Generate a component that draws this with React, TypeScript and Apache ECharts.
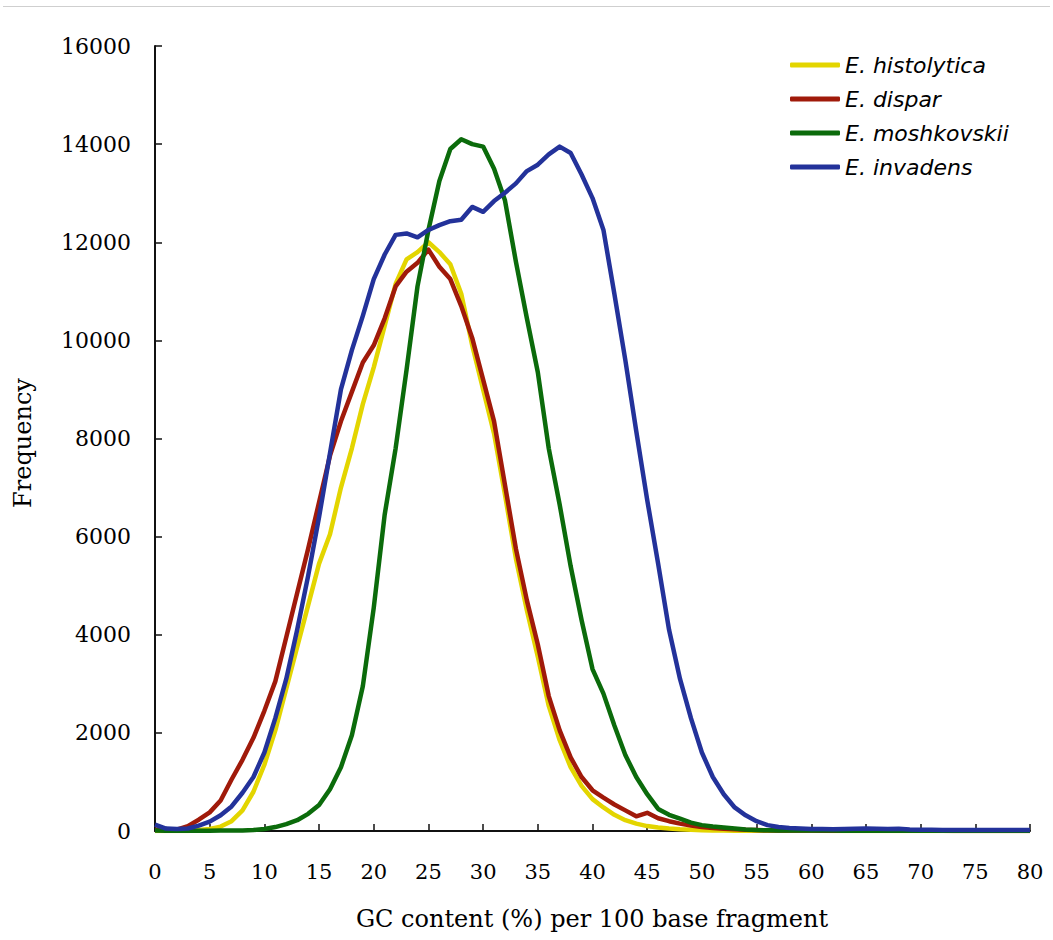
import React, { useEffect, useRef } from "react";
import * as echarts from "echarts";

const GC = [
  0, 1, 2, 3, 4, 5, 6, 7, 8, 9, 10, 11, 12, 13, 14, 15, 16, 17, 18, 19, 20,
  21, 22, 23, 24, 25, 26, 27, 28, 29, 30, 31, 32, 33, 34, 35, 36, 37, 38, 39, 40,
  41, 42, 43, 44, 45, 46, 47, 48, 49, 50, 51, 52, 53, 54, 55, 56, 57, 58, 59, 60,
  61, 62, 63, 64, 65, 66, 67, 68, 69, 70, 71, 72, 73, 74, 75, 76, 77, 78, 79, 80,
];

const X_TICKS = [0, 5, 10, 15, 20, 25, 30, 35, 40, 45, 50, 55, 60, 65, 70, 75, 80];
const Y_TICKS = [0, 2000, 4000, 6000, 8000, 10000, 12000, 14000, 16000];

const histolytica = [
  0, 0, 0, 0, 20, 40, 90, 200, 420, 800, 1350, 2050, 2900, 3750, 4600, 5450, 6050, 7000, 7800, 8700, 9450,
  10300, 11150, 11650, 11800, 12000, 11800, 11550, 10950, 9900, 9000, 8100, 6850, 5550, 4500, 3550, 2550, 1850, 1300, 920, 650,
  480, 330, 220, 150, 100, 70, 50, 35, 25, 15, 10, 8, 6, 5, 5, 4, 4, 3, 3, 3,
  3, 2, 2, 2, 2, 2, 2, 2, 2, 2, 2, 1, 1, 1, 1, 1, 1, 1, 1, 1,
];

const dispar = [
  30, 20, 30, 100, 230, 380, 620, 1050, 1450, 1900, 2450, 3050, 3950, 4850, 5750, 6700, 7650, 8350, 8950, 9550, 9900,
  10450, 11100, 11400, 11580, 11850, 11500, 11250, 10700, 10050, 9200, 8350, 7050, 5750, 4700, 3800, 2750, 2050, 1500, 1100, 830,
  680, 540, 420, 300, 370, 260, 200, 150, 110, 80, 60, 45, 35, 25, 20, 15, 12, 10, 8, 8,
  6, 6, 5, 5, 5, 4, 4, 4, 3, 3, 3, 3, 2, 2, 2, 2, 2, 2, 2, 2,
];

const moshkovskii = [
  10, 5, 5, 5, 5, 5, 8, 10, 12, 20, 40, 80, 140, 220, 350, 530, 850, 1300, 1950, 2950, 4550,
  6450, 7800, 9400, 11100, 12250, 13250, 13900, 14100, 14000, 13950, 13500, 12850, 11600, 10450, 9350, 7800, 6650, 5400, 4300, 3300,
  2800, 2150, 1550, 1100, 750, 450, 330, 250, 170, 120, 90, 70, 50, 30, 20, 15, 12, 10, 10, 8,
  8, 8, 6, 6, 6, 5, 5, 5, 5, 4, 4, 4, 4, 3, 3, 3, 3, 3, 3, 3,
];

const invadens = [
  130, 50, 40, 50, 110, 190, 320, 500, 780, 1100, 1600, 2300, 3100, 4100, 5200, 6400, 7700, 9000, 9800, 10500, 11250,
  11750, 12150, 12180, 12100, 12250, 12350, 12430, 12460, 12720, 12620, 12840, 13010, 13200, 13450, 13580, 13790, 13950, 13820, 13380, 12900,
  12250, 10950, 9600, 8150, 6750, 5450, 4100, 3100, 2300, 1600, 1100, 750, 480, 320, 200, 120, 80, 60, 50, 40,
  40, 35, 40, 45, 50, 45, 40, 45, 30, 25, 25, 22, 22, 20, 20, 20, 20, 20, 20, 20,
];

const NAMES = ["E. histolytica", "E. dispar", "E. moshkovskii", "E. invadens"];
const COLORS = ["#E3D500", "#A01A0A", "#0B6B0B", "#23329A"];

export default function App() {
  const ref = useRef<HTMLDivElement>(null);
  useEffect(() => {
    if (!ref.current) return;
    const chart = echarts.init(ref.current, undefined, { renderer: "svg" });
    const all = [histolytica, dispar, moshkovskii, invadens];
    const axisColor = "#111";
    chart.setOption({
      animation: false,
      backgroundColor: "#ffffff",
      grid: { left: 155, right: 23, top: 46, bottom: 109, containLabel: false },
      legend: {
        orient: "vertical",
        left: 785,
        top: 47,
        itemWidth: 50,
        itemHeight: 5,
        itemGap: 8,
        icon: "roundRect",
        data: NAMES,
        textStyle: {
          fontFamily: "DejaVu Sans",
          fontStyle: "italic",
          fontSize: 22,
          color: "#000",
          lineHeight: 26,
        },
      },
      xAxis: {
        type: "value",
        min: X_TICKS[0],
        max: X_TICKS[X_TICKS.length - 1],
        interval: 5,
        axisLine: { show: true, onZero: false, lineStyle: { color: axisColor, width: 2 } },
        axisTick: { show: true, inside: true, length: 7, lineStyle: { color: axisColor, width: 1.5 } },
        axisLabel: { margin: 30, fontFamily: "DejaVu Serif", fontSize: 21, color: "#000", formatter: (v: number) => String(v) },
        splitLine: { show: false },
      },
      yAxis: {
        type: "value",
        min: Y_TICKS[0],
        max: Y_TICKS[Y_TICKS.length - 1],
        interval: 2000,
        axisLine: { show: true, lineStyle: { color: axisColor, width: 2 } },
        axisTick: { show: true, inside: true, length: 7, lineStyle: { color: axisColor, width: 1.5 } },
        axisLabel: { margin: 24, fontFamily: "DejaVu Serif", fontSize: 22, color: "#000", formatter: (v: number) => String(v) },
        splitLine: { show: false },
      },
      graphic: [
        {
          type: "line",
          shape: { x1: 3, y1: 6.5, x2: 1050, y2: 6.5 },
          style: { stroke: "#cfcfcf", lineWidth: 1 },
          silent: true,
        },
        {
          type: "text",
          x: 592,
          y: 919,
          style: {
            text: "GC content (%) per 100 base fragment",
            fontFamily: "DejaVu Serif",
            fontSize: 24,
            fill: "#000",
            align: "center",
            verticalAlign: "middle",
          },
        },
        {
          type: "text",
          x: 23,
          y: 443,
          rotation: Math.PI / 2,
          style: {
            text: "Frequency",
            fontFamily: "DejaVu Serif",
            fontSize: 24,
            fill: "#000",
            align: "center",
            verticalAlign: "middle",
          },
        },
      ],
      series: all.map((vals, k) => ({
        name: NAMES[k],
        type: "line",
        data: GC.map((g, i) => [g, vals[i]]),
        showSymbol: false,
        symbol: "none",
        lineStyle: { color: COLORS[k], width: 4.5, join: "round" },
        itemStyle: { color: COLORS[k] },
        z: 2 + k,
      })),
    });
    return () => chart.dispose();
  }, []);
  return (
    <div
      ref={ref}
      style={{ position: "fixed", left: 0, top: 0, width: 1053, height: 940, background: "#fff" }}
    />
  );
}
